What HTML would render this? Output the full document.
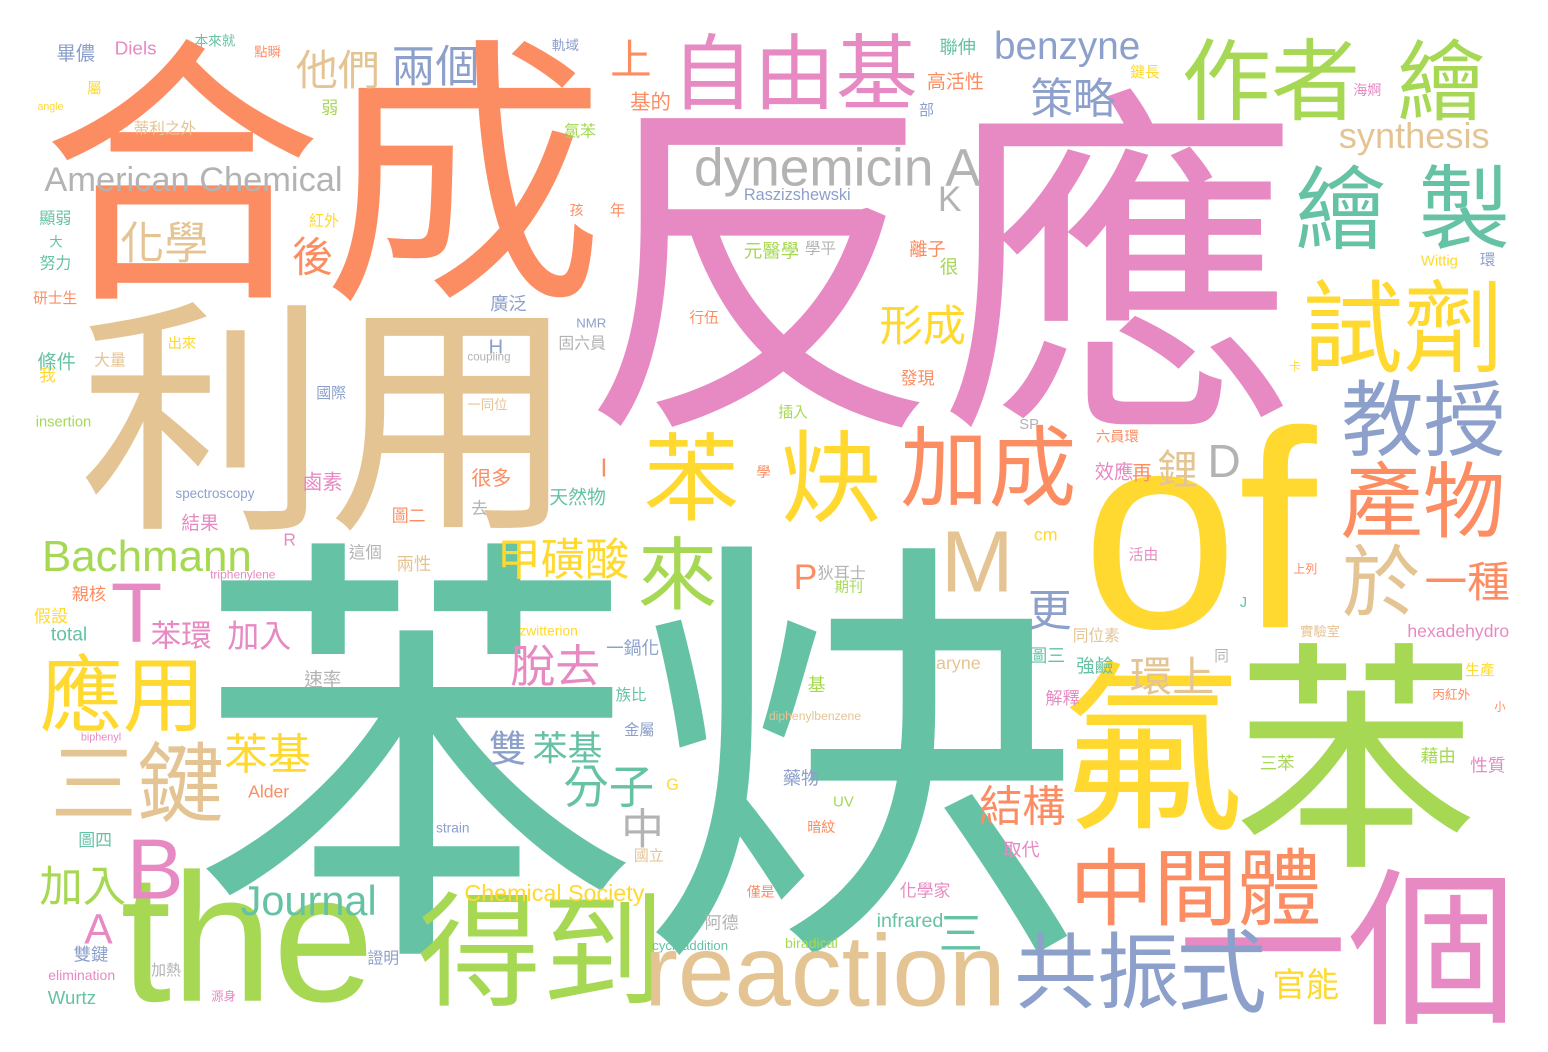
<!DOCTYPE html>
<html>
<head>
<meta charset="utf-8">
<style>
html,body{margin:0;padding:0;background:#fff;}
#cloud{position:absolute;left:0;top:0;width:1548px;height:1052px;}
</style>
</head>
<body>
<svg id="cloud" width="1548" height="1052" xmlns="http://www.w3.org/2000/svg">
<rect x="0" y="0" width="1548" height="1052" fill="#ffffff"/>
</svg>
<script>
const C={T:'#66c2a5',O:'#fc8d62',B:'#8da0cb',P:'#e78ac3',G:'#a6d854',Y:'#ffd92f',N:'#e5c494',R:'#b3b3b3'};
const words=[
["合成","O",45,42,600,300],["反應","P",583,95,1300,420],["苯炔","T",205,537,1065,960],
["利用","N",78,305,555,530],["of","Y",1085,432,1325,620],["氟","Y",1075,648,1232,842],
["苯","G",1240,640,1470,870],["一個","P",1190,862,1500,1030],["the","G",125,865,365,1005],
["自由基","P",680,35,920,108],["作者","G",1180,40,1360,118],["繪","G",1398,40,1485,118],
["繪","T",1297,165,1385,248],["製","T",1420,165,1508,248],["試劑","Y",1302,282,1500,370],
["教授","B",1342,380,1505,455],["產物","O",1342,460,1503,538],["於","N",1343,545,1420,615],
["一種","O",1425,562,1510,600],["苯","Y",645,432,737,520],["炔","Y",782,432,880,520],
["加成","O",905,422,1070,510],["來","G",640,535,715,610],["M","N",945,535,1010,588],
["中間體","O",1075,848,1320,925],["共振","B",1025,925,1170,1015],["式","B",1180,930,1265,1012],
["官能","Y",1278,965,1335,1002],["得到","G",430,882,645,1015],["reaction","N",660,928,990,1010],
["應用","Y",38,655,200,730],["三鍵","N",55,740,222,822],["B","P",133,840,180,898],
["T","P",115,578,158,648],["Bachmann","G",40,540,255,570],["American Chemical","R",50,165,335,192],
["dynemicin A","R",690,148,990,195],["K","R",940,188,962,210],["他們","N",295,50,378,88],
["兩個","B",393,45,477,85],["化學","N",120,222,207,262],["後","O",293,237,332,275],
["benzyne","B",990,33,1145,65],["策略","B",1030,78,1117,116],["synthesis","N",1338,122,1490,155],
["上","O",612,40,650,75],["形成","Y",880,305,965,345],["甲磺酸","Y",500,538,630,578],
["脫去","P",510,645,600,685],["分子","T",565,765,652,808],["雙","B",490,730,525,765],
["苯基","T",535,730,600,765],["苯基","Y",225,733,310,773],["苯環","P",152,620,210,650],
["加入","P",228,620,290,650],["Journal","T",240,885,375,915],["加入","G",40,865,125,905],
["A","P",85,913,112,945],["結構","O",980,785,1065,825],["環上","N",1130,657,1213,695],
["鋰","N",1158,450,1197,485],["D","R",1210,447,1240,475],["更","B",1030,590,1070,630],
["中","R",625,808,660,848],["三","T",942,915,980,950],["Chemical Society","Y",460,885,650,905],
["P","O",797,563,815,590],["hexadehydro","P",1405,625,1512,640],
["Diels","P",117,40,155,55],["本來就","T",197,33,233,48],["高活性","O",928,72,983,90],
["聯伸","T",940,38,975,55],["鍵長","Y",1130,65,1160,78],["海婀","P",1355,82,1380,97],
["Raszizshewski","B",745,188,850,200],["元醫學","G",742,243,801,258],["學平","R",806,240,835,255],
["離子","O",910,240,945,257],["很","G",940,258,958,275],["廣泛","B",490,295,527,311],
["NMR","B",578,318,605,328],["固六員","R",560,335,605,350],["H","B",490,340,502,353],
["coupling","R",465,353,513,362],["出來","Y",170,335,195,350],["條件","T",38,352,75,370],
["大量","N",95,352,125,367],["我","Y",40,367,55,383],["國際","B",318,385,345,400],
["一同位","N",470,397,505,412],["insertion","G",35,416,92,426],["鹵素","P",303,473,343,490],
["很多","O",472,468,510,487],["天然物","T",550,487,605,505],["spectroscopy","B",172,490,258,500],
["去","R",472,500,487,515],["圖二","O",393,508,425,523],["結果","P",180,515,220,530],
["R","P",285,533,295,546],["這個","R",350,543,380,560],["兩性","N",398,555,430,572],
["triphenylene","P",205,571,280,580],["親核","O",73,585,105,602],["假設","Y",35,607,67,624],
["total","T",50,627,87,640],["zwitterion","Y",517,626,580,635],["一鍋化","B",605,640,660,655],
["速率","R",305,670,340,688],["同位素","N",1075,627,1118,643],["圖三","T",1030,648,1065,663],
["強鹼","T",1075,658,1115,673],["aryne","N",935,660,982,672],["解釋","P",1045,690,1080,705],
["diphenylbenzene","N",765,712,865,722],["藥物","B",782,770,820,785],["UV","G",833,797,855,806],
["G","Y",667,779,678,790],["取代","P",1003,841,1040,857],["化學家","P",900,882,950,898],
["infrared","T",877,913,943,927],["biradical","G",785,938,838,948],["cycloaddition","T",650,941,730,952],
["阿德","R",706,914,738,930],["僅是","O",746,885,775,897],["國立","N",635,848,663,862],
["金屬","B",623,723,655,735],["族比","T",614,688,648,700],["上列","O",1295,562,1315,575],
["實驗室","N",1300,625,1340,637],["三苯","G",1260,755,1295,770],["藉由","G",1420,748,1455,763],
["性質","P",1470,757,1505,773],["丙紅外","O",1433,688,1470,700],["小","O",1495,700,1505,712],
["生產","Y",1465,663,1495,676],["cm","Y",1033,532,1058,540],["Alder","O",247,785,290,797],
["biphenyl","P",80,733,122,742],["strain","B",435,823,470,832],["圖四","T",80,832,110,848],
["Wurtz","T",45,992,98,1003],["elimination","P",48,970,115,980],["雙鍵","B",75,945,107,963],
["證明","B",368,950,398,965],["加熱","R",152,962,180,977],["源身","P",212,990,235,1002],
["SP","R",1018,420,1040,428],["六員環","O",1095,430,1140,442],["效應","P",1095,462,1133,480],
["再","O",1132,465,1152,480],["Wittig","Y",1420,255,1458,268],["環","B",1480,253,1495,266],
["基的","O",630,92,670,110],["氯苯","G",563,124,597,137],["部","B",920,102,933,117],
["弱","G",322,100,337,115],["屬","Y",88,80,100,95],["angle","Y",38,102,63,112],
["蒂利之外","N",135,120,195,135],["畢儂","B",55,45,97,60],["點瞬","O",255,45,280,58],
["顯弱","T",40,210,70,225],["大","T",50,235,62,248],["努力","T",40,255,70,270],
["研士生","O",35,290,75,305],["紅外","Y",310,213,338,228],["孩","O",570,203,583,216],
["年","O",610,203,625,216],["軌域","B",553,38,578,52],["行伍","O",690,310,718,324],
["插入","G",778,405,808,418],["發現","O",900,370,935,385],["學","O",757,465,770,478],
["I","O",602,463,606,472],["狄耳士","R",818,565,865,580],["期刊","G",835,580,862,593],
["基","G",808,676,825,692],["暗紋","O",808,820,835,833],["同","R",1215,650,1228,662],
["J","T",1240,597,1246,607],["活由","P",1128,548,1158,560],["卡","Y",1290,360,1300,372]
];
const FAM='"Liberation Sans","Noto Sans CJK TC",sans-serif';
const svg=document.getElementById('cloud');
const cv=document.createElement('canvas');const ctx=cv.getContext('2d');
const NS='http://www.w3.org/2000/svg';
words.forEach((w,i)=>{
  const [txt,col,x0,y0,x1,y1]=w;
  ctx.font='100px '+FAM;
  const m=ctx.measureText(txt);
  const L=m.actualBoundingBoxLeft,R=m.actualBoundingBoxRight,A=m.actualBoundingBoxAscent,D=m.actualBoundingBoxDescent;
  const iw=Math.max(1,L+R),ih=Math.max(1,A+D);
  const bw=x1-x0,bh=y1-y0;
  const s=Math.pow(bw/iw,0.6)*Math.pow(bh/ih,0.4);
  const fs=100*s;
  const cx=(x0+x1)/2,cy=(y0+y1)/2;
  const ox=cx-(R-L)/2*s, oy=cy-(D-A)/2*s;
  const t=document.createElementNS(NS,'text');
  t.setAttribute('x',ox.toFixed(1));
  t.setAttribute('y',oy.toFixed(1));
  t.setAttribute('font-size',fs.toFixed(1));
  t.setAttribute('font-family',FAM);
  t.setAttribute('fill',C[col]);
  
  
  t.textContent=txt;
  svg.appendChild(t);
});
</script>
</body>
</html>
